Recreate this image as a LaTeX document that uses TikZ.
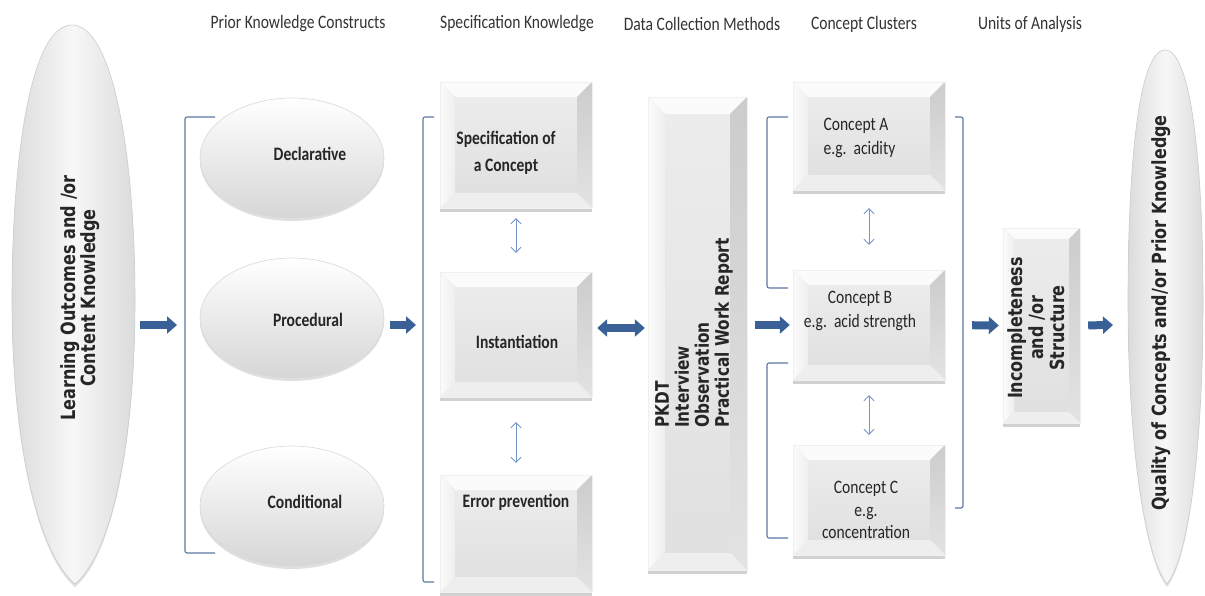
\documentclass[tikz,border=0pt]{standalone}
\usepackage{fontspec}
\setmainfont{Carlito}[FakeStretch=0.82]
\newfontfamily\dvfont{DejaVu Sans}[FakeStretch=0.82]
\usetikzlibrary{shapes.geometric,arrows.meta,shadows,calc}
\definecolor{arrowblue}{HTML}{3A6197}
\definecolor{brk}{HTML}{5A76A2}
\definecolor{thinblue}{HTML}{7393C9}
\newcommand\mybevel{%
  \path (path picture bounding box.south west) coordinate (pA)
        (path picture bounding box.north east) coordinate (pC);
  \path (pA|-pC) coordinate (pB) (pC|-pA) coordinate (pD);
  \path ([xshift=\bvsize,yshift=\bvsize]pA) coordinate (qa)
        ([xshift=\bvsize,yshift=-\bvsize]pB) coordinate (qb)
        ([xshift=-\bvsize,yshift=-\bvsize]pC) coordinate (qc)
        ([xshift=-\bvsize,yshift=\bvsize]pD) coordinate (qd);
  \fill[top color=gray!15,bottom color=gray!24] (qa) -- (qb) -- (qc) -- (qd) -- cycle;
  \fill[gray!3] (pB) -- (pC) -- (qc) -- (qb) -- cycle;
  \fill[left color=gray!3,right color=gray!13] (pA) -- (pB) -- (qb) -- (qa) -- cycle;
  \fill[top color=gray!40,bottom color=gray!22] (pD) -- (pC) -- (qc) -- (qd) -- cycle;
  \fill[gray!13] (pA) -- (pD) -- (qd) -- (qa) -- cycle;
}
\begin{document}
\begin{tikzpicture}[x=1pt,y=-1pt,
  hdr/.style={font=\fontsize{19}{22}\selectfont,text=black!80},
  oval/.style={ellipse,draw=gray!30,line width=0.6,top color=white,bottom color=gray!32,
    minimum width=184,minimum height=120,
    drop shadow={shadow xshift=0pt,shadow yshift=-3pt,fill=gray!50,opacity=0.5}},
  ovaltext/.style={font=\fontsize{19}{22}\selectfont\bfseries,text=black!85},
  bv/.store in=\bvsize, bv=15pt,
  box/.style={rectangle,draw=gray!12,line width=0.4,fill=gray!20,inner sep=0,
    drop shadow={shadow xshift=0pt,shadow yshift=-4pt,fill=gray!60,opacity=0.6},
    path picture={\mybevel}},
  boxtext/.style={font=\fontsize{19}{27}\selectfont\bfseries,text=black!85,align=center},
  cctext/.style={font=\fontsize{19}{24}\selectfont,text=black!85},
  rottext/.style={rotate=90,font=\dvfont\fontsize{18.7}{20}\selectfont\bfseries,text=black!85},
  lens/.style={draw=gray!40,line width=0.6,left color=gray!28,right color=gray!28,middle color=gray!6,
    drop shadow={shadow xshift=0pt,shadow yshift=-3pt,fill=gray!50,opacity=0.5}},
  bigarrow/.style={draw=arrowblue,line width=8,-{Triangle[length=10,width=17]}},
  bigdouble/.style={draw=arrowblue,line width=8,{Triangle[length=10,width=17]}-{Triangle[length=10,width=17]}},
  smallarrow/.style={draw=thinblue,line width=0.8,{Straight Barb[length=5,width=10]}-{Straight Barb[length=5,width=10]}},
  bracket/.style={draw=brk,line width=1.1,rounded corners=2}
]
\useasboundingbox (0,0) rectangle (1205,596);

% headers
\node[hdr] (h1) at (298,24) {Prior Knowledge Constructs};
\node[hdr] (h2) at (517,24) {Specification Knowledge};
\node[hdr] (h3) at (702,24) {Data Collection Methods};
\node[hdr] (h4) at (864,24) {Concept Clusters};
\node[hdr] (h5) at (1030,24) {Units of Analysis};

% left lens
\path[lens] (72,25) .. controls (112,25) and (135,150) .. (135,300)
  .. controls (135,450) and (110,555) .. (75,584)
  .. controls (40,555) and (12,450) .. (12,300)
  .. controls (12,150) and (32,25) .. (72,25) -- cycle;
\node[rottext,align=center,font=\dvfont\fontsize{19.6}{19.5}\selectfont\bfseries] (lo) at (80,298) {Learning Outcomes and /or\\Content Knowledge};

% right lens
\path[lens] (1165,50) .. controls (1192,50) and (1203,170) .. (1203,300)
  .. controls (1203,440) and (1190,555) .. (1167,584)
  .. controls (1144,555) and (1128,440) .. (1128,300)
  .. controls (1128,170) and (1138,50) .. (1165,50) -- cycle;
\node[rottext,font=\dvfont\fontsize{19.5}{20}\selectfont\bfseries] (qo) at (1161,313) {Quality of Concepts and/or Prior Knowledge};
\coordinate (qin) at (1113,325);

% ovals
\node[oval] (decl) at (292,158) {};
\node[ovaltext] (declt) at (310,154) {Declarative};
\node[oval] (proc) at (292,318) {};
\node[ovaltext] (proct) at (308,320) {Procedural};
\node[oval] (cond) at (292,506) {};
\node[ovaltext] (condt) at (305,502) {Conditional};

% specification boxes
\node[box,minimum width=152,minimum height=126] (spec) at (516,145) {};
\node[boxtext] (spect) at (506,153) {Specification of\\a Concept};
\node[box,minimum width=152,minimum height=125] (inst) at (516,334.5) {};
\node[boxtext] (instt) at (517,342) {Instantiation};
\node[box,minimum width=152,minimum height=117] (err) at (516,533.5) {};
\node[boxtext] (errt) at (516,502) {Error prevention};

% data collection
\node[box,bv=17pt,minimum width=99,minimum height=473] (pkdt) at (697.5,333.5) {};
\node[rottext,align=left] (pkdtt) at (694,333) {PKDT\\Interview\\Observation\\Practical Work Report};

% concepts
\node[box,minimum width=152,minimum height=108] (ca) at (869,136) {};
\node[cctext,align=left,anchor=west] (cat) at (820,138) {Concept A\\e.g.\ \ acidity};
\node[box,minimum width=152,minimum height=110] (cb) at (869,325) {};
\node[cctext,align=center] (cbt) at (860,311) {Concept B\\e.g.\ \ acid strength};
\node[box,minimum width=152,minimum height=110] (cc) at (869,500) {};
\node[cctext,align=center,font=\fontsize{19}{22.5}\selectfont] (cct) at (866,510) {Concept C\\e.g.\\concentration};

% units of analysis
\node[box,bv=11pt,minimum width=77,minimum height=195] (inc) at (1041.5,325.5) {};
\node[rottext,align=center,font=\dvfont\fontsize{19.5}{21}\selectfont\bfseries] (inct) at (1036,328) {Incompleteness\\and /or\\Structure};

% brackets
\draw[bracket] (215,117) -- (185,117) -- (185,553) -- (215,553);
\draw[bracket] (434,117) -- (423,117) -- (423,582) -- (434,582);
\draw[bracket] (788,117) -- (767,117) -- (767,288) -- (788,288);
\draw[bracket] (788,363) -- (767,363) -- (767,538) -- (788,538);
\draw[bracket] (955,117) -- (963,117) -- (963,508) -- (955,508);

% big arrows
\coordinate (a1s) at (140,325);
\coordinate (a1e) at (177,325);
\coordinate (a2s) at (390,325);
\coordinate (a2e) at (416,325);
\draw[bigarrow] (a1s) -- (a1e);
\draw[bigarrow] (a2s) -- (a2e);
\draw[bigdouble,shorten <=5,shorten >=3] ([yshift=6.5pt]inst.east) -- ([yshift=6.5pt]inst.east -| pkdt.west);
\draw[bigarrow,shorten <=8,shorten >=3] (pkdt.east |- cb.west) -- (cb.west);
\draw[bigarrow,shorten <=27,shorten >=4] (cb.east) -- (inc.west);
\draw[bigarrow,shorten <=8] (inc.east) -- (qin);

% small double arrows
\draw[smallarrow,shorten <=10,shorten >=19] (spec.south) -- (inst.north);
\draw[smallarrow,shorten <=25,shorten >=12] (inst.south) -- (err.north);
\draw[smallarrow,shorten <=18,shorten >=25] (ca.south) -- (cb.north);
\draw[smallarrow,shorten <=15,shorten >=10] (cb.south) -- (cc.north);
\end{tikzpicture}
\end{document}
